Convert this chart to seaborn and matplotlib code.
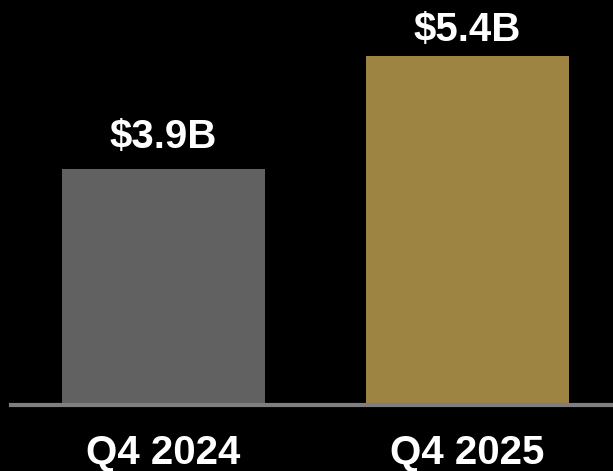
import matplotlib
matplotlib.use("Agg")
import matplotlib.pyplot as plt
import seaborn as sns
import pandas as pd

# Datos del gráfico
quarters = ["Q4 2024", "Q4 2025"]
values = [3.9, 5.4]
labels = ["$3.9B", "$5.4B"]
bar_colors = ["#616161", "#9E8443"]

df = pd.DataFrame({"quarter": quarters, "value": values})

sns.set_style("dark")
plt.rcParams["font.family"] = ["Liberation Sans", "DejaVu Sans"]

fig = plt.figure(figsize=(6.13, 4.71), dpi=100, facecolor="black")
ax = fig.add_axes([11 / 613, 66 / 471, 602 / 613, 405 / 471])
ax.set_facecolor("black")

sns.barplot(data=df, x="quarter", y="value", hue="quarter", palette=bar_colors,
            width=0.668, legend=False, ax=ax, saturation=1, linewidth=0)

# Etiquetas encima de las barras (desplazamiento en puntos)
label_offsets = [15, 11]
for i, (v, lab) in enumerate(zip(values, labels)):
    ax.annotate(lab, (i, v), xytext=(0, label_offsets[i]), textcoords="offset points",
                ha="center", va="baseline", color="white", fontsize=29,
                fontweight="bold")

ax.set_xlim(-0.5016, 1.4786)
ax.set_ylim(0.767, 6.143)
ax.set_xlabel("")
ax.set_ylabel("")
ax.set_yticks([])
ax.grid(False)
for s in ["top", "right", "left"]:
    ax.spines[s].set_visible(False)
ax.spines["bottom"].set_visible(True)
ax.spines["bottom"].set_color("#7F7F7F")
ax.spines["bottom"].set_linewidth(3)
ax.spines["bottom"].set_zorder(5)
ax.tick_params(axis="x", length=0, pad=21, labelsize=29, labelcolor="white")
for t in ax.get_xticklabels():
    t.set_fontweight("bold")

fig.savefig("out.png", dpi=100, facecolor="black")
